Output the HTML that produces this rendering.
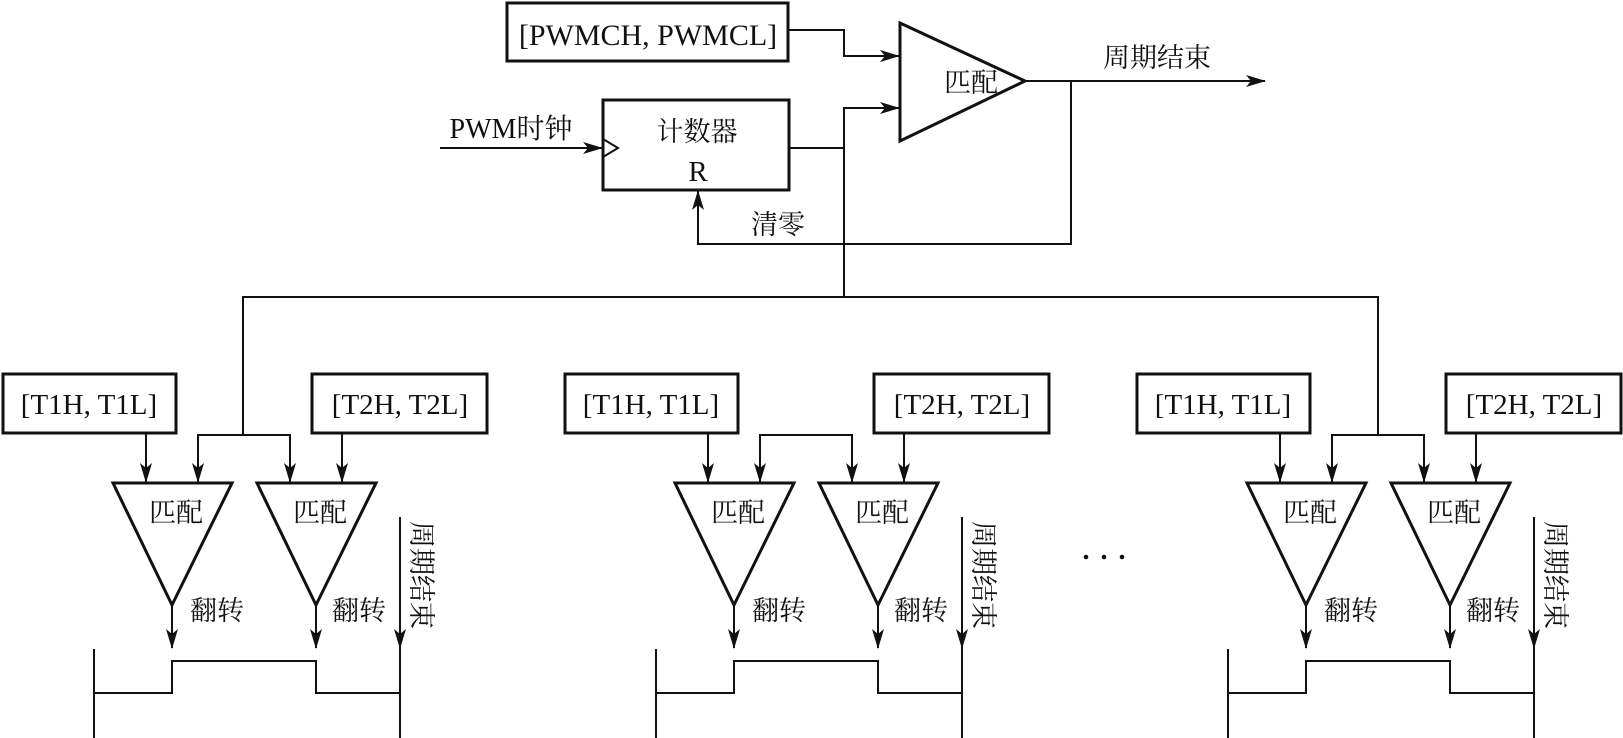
<!DOCTYPE html>
<html><head><meta charset="utf-8"><style>
html,body{margin:0;padding:0;background:#fff;}
svg{display:block;}
text{font-family:"Liberation Serif","Noto Serif CJK SC",serif;fill:#111;}
.c{font-family:"Liberation Serif","Noto Serif CJK SC",serif;}
</style></head><body>
<svg width="1623" height="738" viewBox="0 0 1623 738" xmlns="http://www.w3.org/2000/svg">
<defs>
<marker id="a" markerWidth="20" markerHeight="12" refX="19" refY="6" orient="auto" markerUnits="userSpaceOnUse">
<path d="M0,0 L20,6 L0,12 L5,6 Z" fill="#111"/></marker>
<g id="grp" stroke="#111" fill="none">
<rect x="3" y="374" width="173" height="59" stroke-width="3"/>
<rect x="312" y="374" width="175" height="59" stroke-width="3"/>
<path d="M146,433 V482" stroke-width="2" marker-end="url(#a)"/>
<path d="M342,433 V482" stroke-width="2" marker-end="url(#a)"/>
<path d="M198,482 V435 H290 V482" stroke-width="2" marker-end="url(#a)"/>
<path d="M198,435 V482" stroke-width="2" marker-end="url(#a)"/>
<path d="M113,483 H232 L172,605 Z" stroke-width="3"/>
<path d="M257,483 H376 L316,605 Z" stroke-width="3"/>
<path d="M172,605 V648" stroke-width="2" marker-end="url(#a)"/>
<path d="M316,605 V648" stroke-width="2" marker-end="url(#a)"/>
<path d="M400,517 V648" stroke-width="2" marker-end="url(#a)"/>
<path d="M94,649 V738 M94,693 H172 V661 H316 V693 H400 M400,648 V738" stroke-width="2"/>
<text x="89" y="414" font-size="29" stroke="none" fill="#111" text-anchor="middle">[T1H, T1L]</text>
<text x="400" y="414" font-size="29" stroke="none" fill="#111" text-anchor="middle">[T2H, T2L]</text>
<text x="176" y="522" font-size="27" stroke="none" fill="#111" text-anchor="middle" class="c">匹配</text>
<text x="320" y="522" font-size="27" stroke="none" fill="#111" text-anchor="middle" class="c">匹配</text>
<text x="217" y="620" font-size="27" stroke="none" fill="#111" text-anchor="middle" class="c">翻转</text>
<text x="359" y="620" font-size="27" stroke="none" fill="#111" text-anchor="middle" class="c">翻转</text>
<text transform="translate(412,575) rotate(90)" font-size="27" stroke="none" fill="#111" text-anchor="middle" class="c">周期结束</text>
</g>
</defs>
<use href="#grp"/>
<use href="#grp" transform="translate(562,0)"/>
<use href="#grp" transform="translate(1134,0)"/>
<g stroke="#111" fill="none" stroke-width="2">
<path d="M243,435 V297 H1378 V435"/>
<path d="M844,297 V108 H899" marker-end="url(#a)"/>
<path d="M789,148 H844"/>
<path d="M788,30 H844 V56 H899" marker-end="url(#a)"/>
<path d="M440,148 H602" marker-end="url(#a)"/>
<path d="M1025,81 H1265" marker-end="url(#a)"/>
<path d="M1071,81 V244 H698 V191" marker-end="url(#a)"/>
</g>
<g stroke="#111" fill="none" stroke-width="3">
<rect x="507" y="3" width="281" height="58"/>
<rect x="603" y="100" width="186" height="90"/>
<path d="M900,23 V141 L1025,81 Z"/>
<path d="M603,139 L618,148 L603,157" stroke-width="2"/>
</g>
<text x="648" y="45" font-size="30" text-anchor="middle">[PWMCH, PWMCL]</text>
<text x="697" y="141" font-size="27" text-anchor="middle" class="c">计数器</text>
<text x="698" y="181" font-size="29" text-anchor="middle">R</text>
<text x="511" y="138" font-size="28" text-anchor="middle">PWM<tspan class="c">时钟</tspan></text>
<text x="778" y="234" font-size="27" text-anchor="middle" class="c">清零</text>
<text x="971" y="92" font-size="27" text-anchor="middle" class="c">匹配</text>
<text x="1157" y="67" font-size="27" text-anchor="middle" class="c">周期结束</text>
<g fill="#111"><circle cx="1086" cy="557" r="2.3"/><circle cx="1104" cy="557" r="2.3"/><circle cx="1122" cy="557" r="2.3"/></g>
</svg>
</body></html>
